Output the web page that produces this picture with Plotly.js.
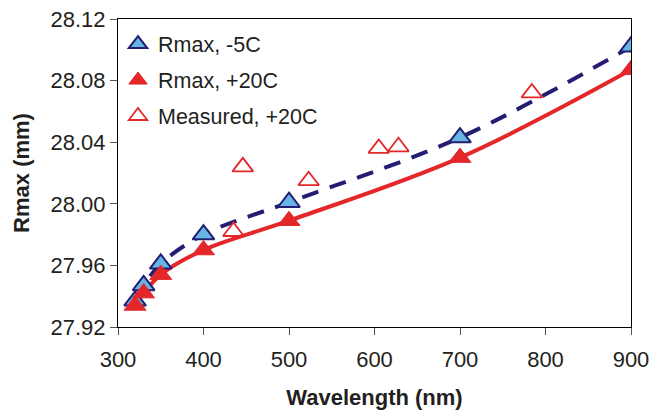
<!DOCTYPE html>
<html><head><meta charset="utf-8">
<script src="https://cdn.plot.ly/plotly-3.0.1.min.js"></script>
<style>html,body{margin:0;padding:0;background:#fff}#c{width:649px;height:413px}</style>
</head><body><div id="c"></div>
<script>
const wlModel = [320, 330, 350, 400, 500, 700, 900];
const rmaxMinus5 = [27.937, 27.947, 27.961, 27.980, 28.001, 28.043, 28.102];
const rmaxPlus20 = [27.934, 27.942, 27.954, 27.970, 27.989, 28.030, 28.087];
const wlMeasured = [435, 446, 523, 605, 628, 784];
const rmaxMeasured = [27.982, 28.024, 28.015, 28.036, 28.037, 28.072];
const xTicks = [300, 400, 500, 600, 700, 800, 900];
const yTicks = [27.92, 27.96, 28.00, 28.04, 28.08, 28.12];

const navy = '#241e72', light = '#67b5e5', red = '#e3272a';
const traces = [
  {x: wlModel, y: rmaxMinus5, mode: 'lines', line: {color: navy, width: 4, dash: '17px,12px', shape: 'spline'}, showlegend: false, hoverinfo: 'skip'},
  {x: wlModel, y: rmaxPlus20, mode: 'lines', line: {color: red, width: 4, shape: 'spline'}, showlegend: false, hoverinfo: 'skip'},
  {x: wlMeasured, y: rmaxMeasured, mode: 'markers', name: 'Measured, +20C', legendrank: 3, legendgroup: 'c',
   marker: {symbol: 'triangle-up-open', size: 18, color: red, line: {width: 1.8, color: red}}},
  {x: wlModel, y: rmaxMinus5, mode: 'markers', name: 'Rmax, -5C', legendrank: 1, legendgroup: 'a',
   marker: {symbol: 'triangle-up', size: 19, color: light, line: {width: 2, color: navy}}},
  {x: wlModel, y: rmaxPlus20, mode: 'markers', name: 'Rmax, +20C', legendrank: 2, legendgroup: 'b',
   marker: {symbol: 'triangle-up', size: 19, color: red, line: {width: 1, color: red}}}
];
const layout = {
  width: 649, height: 413,
  margin: {l: 118, r: 18, t: 19, b: 86},
  paper_bgcolor: '#fff', plot_bgcolor: '#fff',
  font: {family: 'Liberation Sans, Arial, sans-serif', size: 22, color: '#231f20'},
  showlegend: true,
  legend: {x: 0.0, y: 0.985, xanchor: 'left', yanchor: 'top', traceorder: 'grouped',
    bgcolor: 'rgba(0,0,0,0)', font: {size: 21.5}, tracegroupgap: 5},
  xaxis: {range: [300, 900], tickvals: xTicks, ticktext: xTicks.map(String),
    showgrid: false, zeroline: false, showline: true, linecolor: '#000', linewidth: 1, mirror: true,
    ticks: 'outside', ticklen: 7, tickcolor: '#555', tickfont: {size: 22}, ticklabelstandoff: 6,
    ticklabeloverflow: 'allow',
    title: {text: '<b>Wavelength (nm)</b>', font: {size: 22}, standoff: 18}},
  yaxis: {range: [27.92, 28.12], tickvals: yTicks, ticktext: yTicks.map(v => v.toFixed(2)),
    showgrid: false, zeroline: false, showline: true, linecolor: '#000', linewidth: 1, mirror: true,
    ticks: 'outside', ticklen: 7, tickcolor: '#555', tickfont: {size: 22},
    title: {text: '<b>Rmax (mm)</b>', font: {size: 22}, standoff: 14}}
};
Plotly.newPlot('c', traces, layout, {displayModeBar: false, staticPlot: true});
</script></body></html>
